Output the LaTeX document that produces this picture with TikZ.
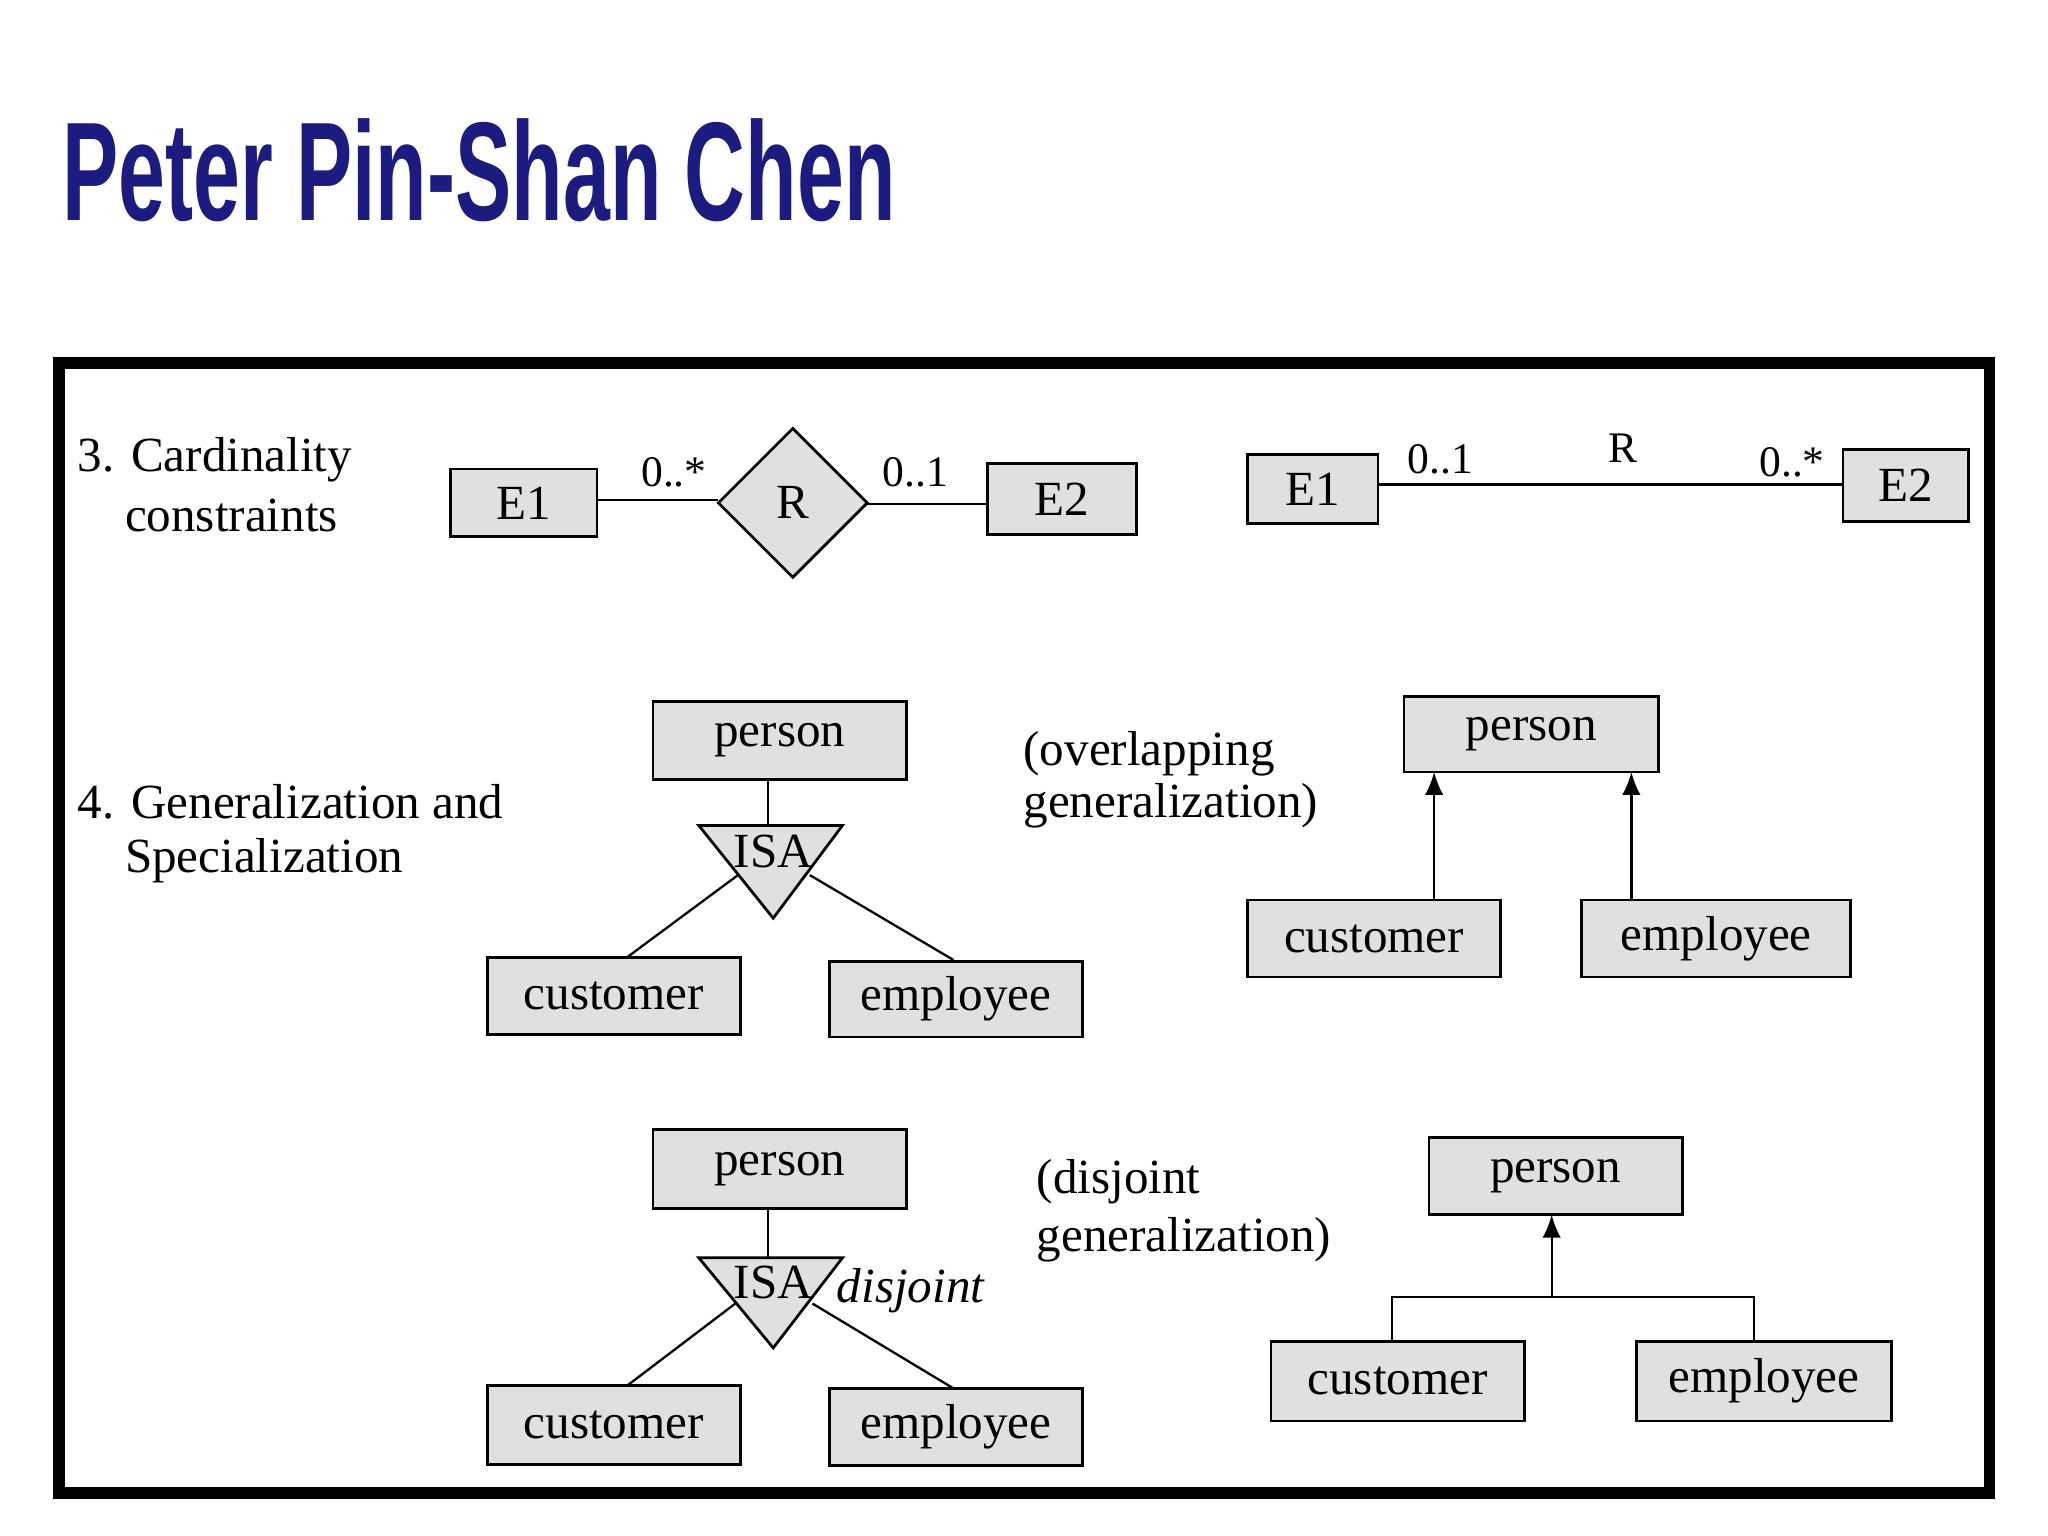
\documentclass[tikz,border=0pt]{standalone}
\usepackage{fontspec}
\setmainfont{Liberation Serif}
\newfontfamily\titlefont{Liberation Sans}
\usetikzlibrary{arrows.meta}
\definecolor{boxgray}{HTML}{E0E0E2}
\definecolor{navy}{HTML}{1C1C80}
\tikzset{
  ent/.style={draw,fill=boxgray,line width=0.6pt},
  lbl/.style={font=\fontsize{10.7}{13}\selectfont},
  sm/.style={font=\fontsize{9.5}{11}\selectfont},
  ln/.style={line width=0.5pt},
  arr/.style={line width=0.5pt,-{Latex[length=5pt,width=4pt]}}
}
\newcommand{\bx}[6]{\draw[ent] (#2/100,-#3/100) rectangle (#4/100,-#5/100);
  \node[lbl] (#1) at ({(#2+#4)/200},{-(#3+#5)/200}) {#6};
  \coordinate (#1nw) at (#2/100,-#3/100); \coordinate (#1se) at (#4/100,-#5/100);}
\begin{document}
\begin{tikzpicture}[x=1cm,y=1cm]
\useasboundingbox (0,0) rectangle (15.68,-11.76);
\fill[white] (0,0) rectangle (15.68,-11.76);
\node[anchor=west,inner sep=0] (title) at (0.47,-1.30) {\resizebox{6.38cm}{0.78cm}{\titlefont\bfseries\color{navy}Peter Pin-Shan Chen}};
\draw[line width=2.5pt] (0.45,-2.78) rectangle (15.23,-11.43);
% section 3
\node[lbl,anchor=west,inner sep=0] (t3a) at (0.59,-3.52) {3. Cardinality};
\node[lbl,anchor=west,inner sep=0] (t3b) at (0.95,-3.95) {constraints};
\bx{e1}{345}{359}{457}{411}{E1}
\bx{e2}{756}{355}{870}{409}{E2}
\draw[fill=boxgray,line width=0.6pt] (5.50,-3.85) -- (6.07,-3.28) -- (6.64,-3.85) -- (6.07,-4.42) -- cycle;
\node[lbl] (r) at (6.07,-3.85) {R};
\draw[ln] (4.57,-3.83) -- (5.50,-3.83);
\draw[ln] (6.64,-3.86) -- (7.56,-3.86);
\node[sm] (c1) at (5.16,-3.62) {0..*};
\node[sm] (c2) at (7.01,-3.62) {0..1};
\bx{f1}{955}{348}{1055}{401}{E1}
\bx{f2}{1411}{344}{1507}{399}{E2}
\draw[ln] (10.55,-3.71) -- (14.11,-3.71);
\node[sm] (d1) at (11.03,-3.52) {0..1};
\node[sm] (d2) at (12.43,-3.43) {R};
\node[sm] (d3) at (13.72,-3.54) {0..*};
% section 4
\node[lbl,anchor=west,inner sep=0] (t4a) at (0.59,-6.14) {4. Generalization and};
\node[lbl,anchor=west,inner sep=0] (t4b) at (0.95,-6.59) {Specialization};
\bx{p1}{500}{537}{694}{597}{person}
\draw[ln] (5.88,-5.97) -- (5.88,-6.32);
\draw[fill=boxgray,line width=0.6pt] (5.35,-6.32) -- (6.45,-6.32) -- (5.92,-7.03) -- cycle;
\node[lbl] (isa1) at (5.92,-6.52) {ISA};
\bx{cu1}{373}{733}{567}{792}{customer}
\bx{em1}{635}{736}{829}{794}{employee}
\draw[ln] (5.65,-6.70) -- (4.80,-7.33);
\draw[ln] (6.20,-6.70) -- (7.30,-7.35);
\node[lbl,anchor=west,inner sep=0] (ov1) at (7.83,-5.77) {(overlapping};
\node[lbl,anchor=west,inner sep=0] (ov2) at (7.83,-6.17) {generalization)};
\bx{p2}{1075}{533}{1270}{591}{person}
\bx{cu2}{955}{689}{1149}{748}{customer}
\bx{em2}{1211}{689}{1417}{748}{employee}
\draw[arr] (10.98,-6.89) -- (10.98,-5.91);
\draw[arr] (12.49,-6.89) -- (12.49,-5.91);
% bottom
\bx{p3}{500}{865}{694}{925}{person}
\draw[ln] (5.88,-9.25) -- (5.88,-9.63);
\draw[fill=boxgray,line width=0.6pt] (5.35,-9.63) -- (6.45,-9.63) -- (5.92,-10.32) -- cycle;
\node[lbl] (isa2) at (5.92,-9.82) {ISA};
\node[lbl,anchor=west,inner sep=0,font=\fontsize{10.7}{13}\selectfont\itshape] (dj) at (6.40,-9.88) {disjoint};
\bx{cu3}{373}{1061}{567}{1121}{customer}
\bx{em3}{635}{1063}{829}{1122}{employee}
\draw[ln] (5.63,-9.98) -- (4.80,-10.61);
\draw[ln] (6.22,-9.98) -- (7.30,-10.63);
\node[lbl,anchor=west,inner sep=0] (dg1) at (7.93,-9.05) {(disjoint};
\node[lbl,anchor=west,inner sep=0] (dg2) at (7.93,-9.49) {generalization)};
\bx{p4}{1094}{871}{1288}{930}{person}
\bx{cu4}{973}{1027}{1167}{1088}{customer}
\bx{em4}{1253}{1027}{1448}{1088}{employee}
\coordinate (j) at (11.88,-9.93);
\draw[ln] (10.66,-10.27) -- (10.66,-9.93) -- (13.43,-9.93) -- (13.43,-10.27);
\draw[arr] (j) -- (11.88,-9.30);
\end{tikzpicture}
\end{document}
